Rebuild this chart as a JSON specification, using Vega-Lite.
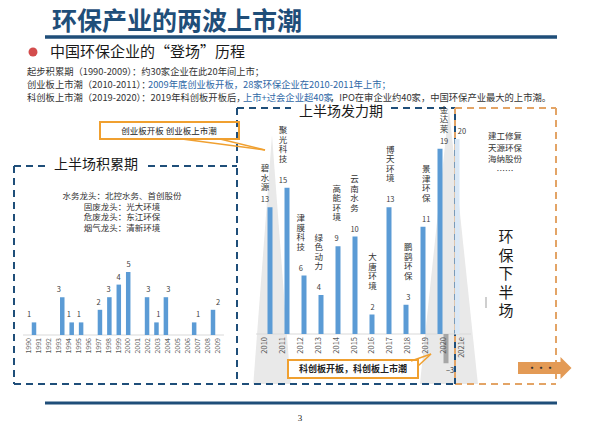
{
"$schema":"https://vega.github.io/schema/vega-lite/v6.json",
"width":600,"height":428,"autosize":{"type":"none"},"padding":0,"background":"#ffffff",
"config":{"view":{"stroke":null},"font":"Noto Sans CJK SC","text":{"font":"Noto Sans CJK SC"}},
"data":{"values":[{}]},
"datasets":{
"early":[
{"year":1990,"listings":1},{"year":1991,"listings":0},{"year":1992,"listings":0},{"year":1993,"listings":3},{"year":1994,"listings":1},{"year":1995,"listings":1},{"year":1996,"listings":0},{"year":1997,"listings":2},{"year":1998,"listings":3},{"year":1999,"listings":4},{"year":2000,"listings":5},{"year":2001,"listings":0},{"year":2002,"listings":3},{"year":2003,"listings":1},{"year":2004,"listings":3},{"year":2005,"listings":0},{"year":2006,"listings":0},{"year":2007,"listings":1},{"year":2008,"listings":0},{"year":2009,"listings":2}],
"boom":[
{"year":2010,"label":"2010","listings":13,"status":"listed","company":"碧水源"},
{"year":2011,"label":"2011","listings":15,"status":"listed","company":"聚光科技"},
{"year":2012,"label":"2012","listings":6,"status":"listed","company":"津膜科技"},
{"year":2013,"label":"2013","listings":4,"status":"listed","company":"绿色动力"},
{"year":2014,"label":"2014","listings":9,"status":"listed","company":"高能环境"},
{"year":2015,"label":"2015","listings":10,"status":"listed","company":"云南水务"},
{"year":2016,"label":"2016","listings":2,"status":"listed","company":"大唐环境"},
{"year":2017,"label":"2017","listings":13,"status":"listed","company":"博天环境"},
{"year":2018,"label":"2018","listings":3,"status":"listed","company":"鹏鹞环保"},
{"year":2019,"label":"2019","listings":11,"status":"listed","company":"景津环保"},
{"year":2020,"label":"2020","listings":19,"status":"listed","company":"金达莱"},
{"year":2021,"label":"2021e","listings":20,"status":"estimate","company":""}],
"boomNeg":[{"year":2020,"listings":-3}]
},
"resolve":{"scale":{"x":"independent","y":"independent","color":"independent"}},
"layer":[
{"mark":{"type":"point","shape":"M0,-1L0.15,1L-0.15,1Z","filled":true,"color":"#E9E9E9","opacity":1,"size":62001,"strokeWidth":0},
 "encoding":{"x":{"datum":2010.39,"type":"quantitative","scale":{"type":"linear","domain":[2010,2021],"range":[265,462],"nice":false,"zero":false},"axis":null},"y":{"datum":7.64,"type":"quantitative","scale":{"type":"linear","domain":[0,20],"range":[334,139],"nice":false,"zero":false},"axis":null}}},
{"mark":{"type":"point","shape":"M0,-1L0.21,1L-0.21,1Z","filled":true,"color":"#E9E9E9","opacity":1,"size":76176,"strokeWidth":0},
 "encoding":{"x":{"datum":2020.27,"type":"quantitative","scale":{"type":"linear","domain":[2010,2021],"range":[265,462],"nice":false,"zero":false},"axis":null},"y":{"datum":9.03,"type":"quantitative","scale":{"type":"linear","domain":[0,20],"range":[334,139],"nice":false,"zero":false},"axis":null}}},

{"mark":{"type":"rule","color":"#1F4E79","strokeWidth":2,"strokeDash":[7,5]},"encoding":{"x":{"value":14},"y":{"value":166},"y2":{"value":384}}},
{"mark":{"type":"rule","color":"#1F4E79","strokeWidth":2,"strokeDash":[7,5]},"encoding":{"x":{"value":14},"x2":{"value":50},"y":{"value":166}}},
{"mark":{"type":"rule","color":"#1F4E79","strokeWidth":2,"strokeDash":[7,5]},"encoding":{"x":{"value":148},"x2":{"value":237},"y":{"value":166}}},
{"mark":{"type":"rule","color":"#1F4E79","strokeWidth":2,"strokeDash":[7,5]},"encoding":{"x":{"value":237},"y":{"value":108},"y2":{"value":384}}},
{"mark":{"type":"rule","color":"#1F4E79","strokeWidth":2,"strokeDash":[7,5]},"encoding":{"x":{"value":237},"x2":{"value":291},"y":{"value":108}}},
{"mark":{"type":"rule","color":"#1F4E79","strokeWidth":2,"strokeDash":[7,5]},"encoding":{"x":{"value":391},"x2":{"value":455},"y":{"value":108}}},
{"mark":{"type":"rule","color":"#1F4E79","strokeWidth":2,"strokeDash":[7,5]},"encoding":{"x":{"value":14},"x2":{"value":455},"y":{"value":384}}},
{"mark":{"type":"rule","color":"#E3A466","strokeWidth":2,"strokeDash":[7,5]},"encoding":{"x":{"value":455},"x2":{"value":556},"y":{"value":108}}},
{"mark":{"type":"rule","color":"#E3A466","strokeWidth":2,"strokeDash":[7,5]},"encoding":{"x":{"value":455},"x2":{"value":556},"y":{"value":384}}},
{"mark":{"type":"rule","color":"#E3A466","strokeWidth":2,"strokeDash":[7,5]},"encoding":{"x":{"value":556},"y":{"value":108},"y2":{"value":384}}},
{"mark":{"type":"rule","color":"#E3A466","strokeWidth":2,"strokeDash":[6,6]},"encoding":{"x":{"value":455},"y":{"value":108},"y2":{"value":384}}},
{"mark":{"type":"rule","color":"#1F4E79","strokeWidth":2,"strokeDash":[6,6],"strokeDashOffset":6},"encoding":{"x":{"value":455},"y":{"value":108},"y2":{"value":384}}},

{"mark":{"type":"rule","color":"#D9D9D9","strokeWidth":1},"encoding":{"x":{"datum":1989.4,"type":"quantitative","scale":{"type":"linear","domain":[1990,2009],"range":[29,218],"nice":false,"zero":false},"axis":null},"x2":{"datum":2009.6},"y":{"datum":0,"type":"quantitative","scale":{"type":"linear","domain":[0,5],"range":[335,272],"nice":false,"zero":false},"axis":null}}},
{"data":{"name":"early"},"transform":[{"filter":"datum.listings > 0"}],
 "mark":{"type":"bar","width":4.5,"color":"#5B9BD5"},
 "encoding":{"x":{"field":"year","type":"quantitative","scale":{"type":"linear","domain":[1990,2009],"range":[29,218],"nice":false,"zero":false},"axis":null},"y":{"field":"listings","type":"quantitative","scale":{"type":"linear","domain":[0,5],"range":[335,272],"nice":false,"zero":false},"axis":null},"y2":{"datum":0}}},
{"data":{"name":"early"},"transform":[{"filter":"datum.listings > 0"}],
 "mark":{"type":"text","baseline":"bottom","dy":-3,"fontSize":7.5,"color":"#404040"},
 "encoding":{"x":{"field":"year","type":"quantitative","scale":{"type":"linear","domain":[1990,2009],"range":[29,218],"nice":false,"zero":false},"axis":null},"y":{"field":"listings","type":"quantitative","scale":{"type":"linear","domain":[0,5],"range":[335,272],"nice":false,"zero":false},"axis":null},"text":{"field":"listings","type":"quantitative"}}},
{"data":{"name":"early"},
 "mark":{"type":"text","angle":270,"align":"right","baseline":"middle","dx":-3,"fontSize":7,"color":"#595959"},
 "encoding":{"x":{"field":"year","type":"quantitative","scale":{"type":"linear","domain":[1990,2009],"range":[29,218],"nice":false,"zero":false},"axis":null},"y":{"datum":0,"type":"quantitative","scale":{"type":"linear","domain":[0,5],"range":[335,272],"nice":false,"zero":false},"axis":null},"text":{"field":"year","type":"quantitative","format":"d"}}},

{"mark":{"type":"rule","color":"#D9D9D9","strokeWidth":1},"encoding":{"x":{"datum":2009.5,"type":"quantitative","scale":{"type":"linear","domain":[2010,2021],"range":[265,462],"nice":false,"zero":false},"axis":null},"x2":{"datum":2021.5},"y":{"datum":0,"type":"quantitative","scale":{"type":"linear","domain":[0,20],"range":[334,139],"nice":false,"zero":false},"axis":null}}},
{"data":{"name":"boom"},
 "mark":{"type":"bar","width":5},
 "encoding":{"x":{"field":"year","type":"quantitative","scale":{"type":"linear","domain":[2010,2021],"range":[265,462],"nice":false,"zero":false},"axis":null},"y":{"field":"listings","type":"quantitative","scale":{"type":"linear","domain":[0,20],"range":[334,139],"nice":false,"zero":false},"axis":null},"y2":{"datum":0},
 "color":{"field":"status","type":"nominal","scale":{"domain":["listed","estimate"],"range":["#5B9BD5","#DAE8F6"]},"legend":null}}},
{"data":{"name":"boomNeg"},
 "mark":{"type":"bar","width":5,"color":"#A6A6A6","xOffset":6},
 "encoding":{"x":{"field":"year","type":"quantitative","scale":{"type":"linear","domain":[2010,2021],"range":[265,462],"nice":false,"zero":false},"axis":null},"y":{"field":"listings","type":"quantitative","scale":{"type":"linear","domain":[0,20],"range":[334,139],"nice":false,"zero":false},"axis":null},"y2":{"datum":0}}},
{"data":{"name":"boom"},
 "mark":{"type":"text","angle":270,"align":"right","baseline":"middle","dx":-3,"fontSize":7.5,"color":"#595959"},
 "encoding":{"x":{"field":"year","type":"quantitative","scale":{"type":"linear","domain":[2010,2021],"range":[265,462],"nice":false,"zero":false},"axis":null},"y":{"datum":0,"type":"quantitative","scale":{"type":"linear","domain":[0,20],"range":[334,139],"nice":false,"zero":false},"axis":null},"text":{"field":"label","type":"nominal"}}},
{"data":{"name":"boom"},
 "mark":{"type":"text","baseline":"bottom","dy":-3,"fontSize":7.5,"color":"#404040"},
 "encoding":{"x":{"field":"year","type":"quantitative","scale":{"type":"linear","domain":[2010,2021],"range":[265,462],"nice":false,"zero":false},"axis":null},"y":{"field":"listings","type":"quantitative","scale":{"type":"linear","domain":[0,20],"range":[334,139],"nice":false,"zero":false},"axis":null},"text":{"field":"listings","type":"quantitative"}}},
{"data":{"name":"boomNeg"},
 "mark":{"type":"text","baseline":"top","dy":4,"dx":6,"fontSize":7.5,"color":"#404040"},
 "encoding":{"x":{"field":"year","type":"quantitative","scale":{"type":"linear","domain":[2010,2021],"range":[265,462],"nice":false,"zero":false},"axis":null},"y":{"field":"listings","type":"quantitative","scale":{"type":"linear","domain":[0,20],"range":[334,139],"nice":false,"zero":false},"axis":null},"text":{"field":"listings","type":"quantitative"}}},
{"data":{"name":"boom"},"transform":[{"filter":"length(datum.company) == 3"},{"calculate":"split(datum.company, '')","as":"chars"}],
 "mark":{"type":"text","baseline":"bottom","dy":-34,"fontSize":8.5,"lineHeight":9.5,"color":"#333333"},
 "encoding":{"x":{"field":"year","type":"quantitative","scale":{"type":"linear","domain":[2010,2021],"range":[265,462],"nice":false,"zero":false},"axis":null},"y":{"field":"listings","type":"quantitative","scale":{"type":"linear","domain":[0,20],"range":[334,139],"nice":false,"zero":false},"axis":null},"text":{"field":"chars","type":"nominal"}}},
{"data":{"name":"boom"},"transform":[{"filter":"length(datum.company) == 4"},{"calculate":"split(datum.company, '')","as":"chars"}],
 "mark":{"type":"text","baseline":"bottom","dy":-52.5,"fontSize":8.5,"lineHeight":9.5,"color":"#333333"},
 "encoding":{"x":{"field":"year","type":"quantitative","scale":{"type":"linear","domain":[2010,2021],"range":[265,462],"nice":false,"zero":false},"axis":null},"y":{"field":"listings","type":"quantitative","scale":{"type":"linear","domain":[0,20],"range":[334,139],"nice":false,"zero":false},"axis":null},"text":{"field":"chars","type":"nominal"}}},

{"mark":{"type":"text","text":"环保产业的两波上市潮","align":"left","baseline":"middle","fontSize":25,"fontWeight":"bold","color":"#1F4E79"},"encoding":{"x":{"value":52},"y":{"value":22}}},
{"mark":{"type":"rule","color":"#1F4E79","strokeWidth":3.5},"encoding":{"x":{"value":45},"x2":{"value":557},"y":{"value":37}}},
{"mark":{"type":"point","filled":true,"color":"#C00000","size":80,"strokeWidth":0},"encoding":{"x":{"value":33},"y":{"value":52}}},
{"mark":{"type":"text","text":"中国环保企业的“登场”历程","align":"left","baseline":"middle","fontSize":15,"color":"#1a1a1a"},"encoding":{"x":{"value":50},"y":{"value":52}}},
{"mark":{"type":"text","text":"起步积累期（1990-2009）：约30家企业在此20年间上市；","align":"left","baseline":"middle","fontSize":9.3,"color":"#333333"},"encoding":{"x":{"value":27},"y":{"value":72}}},
{"mark":{"type":"text","text":"创业板上市潮（2010-2011）：","align":"left","baseline":"middle","fontSize":9.3,"color":"#333333"},"encoding":{"x":{"value":27},"y":{"value":85}}},
{"mark":{"type":"text","text":"2009年底创业板开板，28家环保企业在2010-2011年上市；","align":"left","baseline":"middle","fontSize":9.3,"color":"#2E67A6"},"encoding":{"x":{"value":148},"y":{"value":85}}},
{"mark":{"type":"text","text":"科创板上市潮（2019-2020）：2019年科创板开板后，","align":"left","baseline":"middle","fontSize":9.3,"color":"#333333"},"encoding":{"x":{"value":27},"y":{"value":98}}},
{"mark":{"type":"text","text":"上市+过会企业超40家","align":"left","baseline":"middle","fontSize":9.3,"color":"#2E67A6"},"encoding":{"x":{"value":243},"y":{"value":98}}},
{"mark":{"type":"text","text":"，IPO在审企业约40家，中国环保产业最大的上市潮。","align":"left","baseline":"middle","fontSize":9.3,"color":"#333333"},"encoding":{"x":{"value":330},"y":{"value":98}}},

{"mark":{"type":"text","text":"上半场积累期","align":"center","baseline":"middle","fontSize":14,"color":"#1a1a1a"},"encoding":{"x":{"value":96},"y":{"value":165}}},
{"mark":{"type":"text","text":"上半场发力期","align":"center","baseline":"middle","fontSize":14,"color":"#1a1a1a"},"encoding":{"x":{"value":341},"y":{"value":112}}},
{"mark":{"type":"text","text":["水务龙头：北控水务、首创股份","固废龙头：光大环境","危废龙头：东江环保","烟气龙头：清新环境"],"align":"center","baseline":"top","fontSize":8.5,"lineHeight":10.5,"color":"#333333"},"encoding":{"x":{"value":122},"y":{"value":192}}},
{"mark":{"type":"text","text":["建工修复","天源环保","海纳股份","……"],"align":"center","baseline":"top","fontSize":8.5,"lineHeight":11.5,"color":"#333333"},"encoding":{"x":{"value":505},"y":{"value":132}}},
{"mark":{"type":"text","text":["环","保","下","半","场"],"align":"center","baseline":"top","fontSize":15,"lineHeight":18.5,"color":"#1a1a1a"},"encoding":{"x":{"value":506},"y":{"value":230}}},
{"mark":{"type":"rule","color":"#BFBFBF","strokeWidth":1.5},"encoding":{"x":{"value":486},"y":{"value":297},"y2":{"value":308}}},

{"mark":{"type":"rect","fill":null,"stroke":"#F0A030","strokeWidth":2},"encoding":{"x":{"value":100},"x2":{"value":239},"y":{"value":122},"y2":{"value":139}}},
{"mark":{"type":"rule","color":"#F0A030","strokeWidth":1.5},"encoding":{"x":{"value":182},"x2":{"value":265},"y":{"value":139},"y2":{"value":150}}},
{"mark":{"type":"rule","color":"#F0A030","strokeWidth":1.5},"encoding":{"x":{"value":220},"x2":{"value":265},"y":{"value":139},"y2":{"value":150}}},
{"mark":{"type":"text","text":"创业板开板  创业板上市潮","align":"center","baseline":"middle","fontSize":8.5,"color":"#222222"},"encoding":{"x":{"value":169},"y":{"value":131}}},
{"mark":{"type":"rect","fill":"#ffffff","stroke":"#F0A030","strokeWidth":2},"encoding":{"x":{"value":288},"x2":{"value":418},"y":{"value":360},"y2":{"value":378}}},
{"mark":{"type":"rule","color":"#F0A030","strokeWidth":1.5},"encoding":{"x":{"value":411},"x2":{"value":431},"y":{"value":361},"y2":{"value":354}}},
{"mark":{"type":"rule","color":"#F0A030","strokeWidth":1.5},"encoding":{"x":{"value":418},"x2":{"value":431},"y":{"value":366},"y2":{"value":354}}},
{"mark":{"type":"text","text":"科创板开板，科创板上市潮","align":"center","baseline":"middle","fontSize":9,"fontWeight":"bold","color":"#222222"},"encoding":{"x":{"value":353},"y":{"value":369}}},

{"mark":{"type":"rect","color":"#E39A55"},"encoding":{"x":{"value":518},"x2":{"value":562},"y":{"value":362},"y2":{"value":374}}},
{"mark":{"type":"point","shape":"M-0.5,-1L0.5,0L-0.5,1Z","filled":true,"color":"#E39A55","opacity":1,"size":484,"strokeWidth":0},"encoding":{"x":{"value":566},"y":{"value":368}}},
{"mark":{"type":"text","text":"•••","align":"center","baseline":"middle","fontSize":9,"fontWeight":"bold","color":"#333333"},"encoding":{"x":{"value":541},"y":{"value":368}}},

{"mark":{"type":"rule","color":"#1F4E79","strokeWidth":3},"encoding":{"x":{"value":45},"x2":{"value":557},"y":{"value":403}}},
{"mark":{"type":"text","text":"3","align":"center","baseline":"middle","fontSize":9,"font":"Liberation Serif","color":"#1a1a1a"},"encoding":{"x":{"value":300},"y":{"value":418}}}
]
}
